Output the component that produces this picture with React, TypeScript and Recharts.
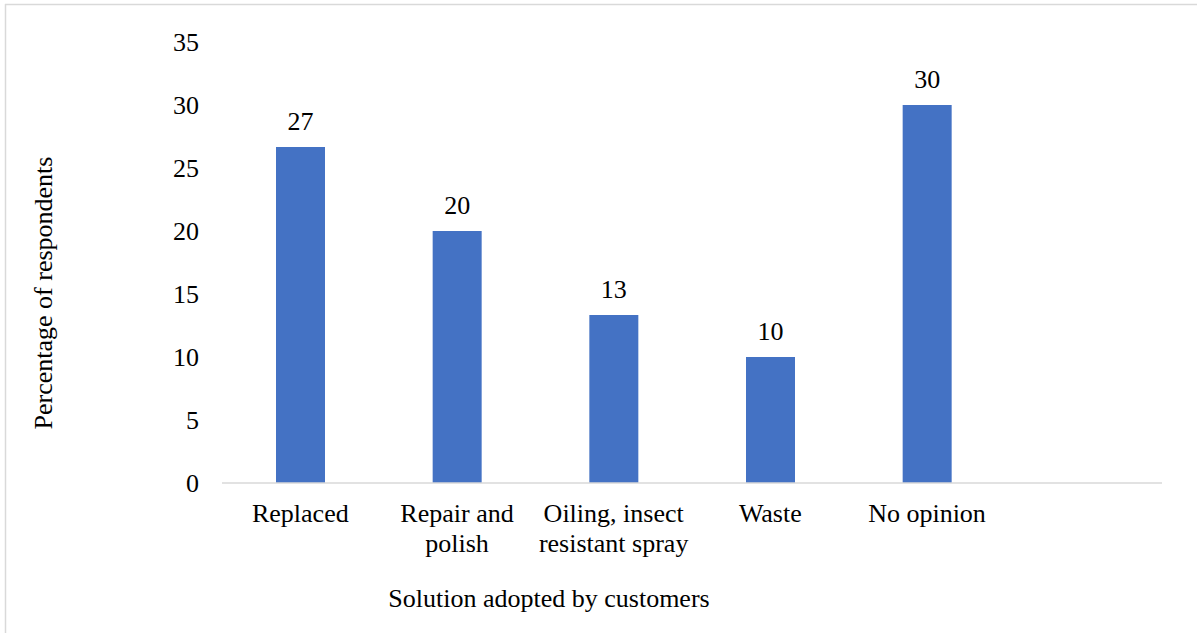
import { BarChart, Bar, XAxis, YAxis, LabelList } from "recharts"

const categories = ["Replaced", "Repair and polish", "Oiling, insect resistant spray", "Waste", "No opinion", ""]
const tickLines = [["Replaced"], ["Repair and", "polish"], ["Oiling, insect", "resistant spray"], ["Waste"], ["No opinion"], [""]]
const percentages = [26.67, 20, 13.33, 10, 30, null]
const yTicks = [0, 5, 10, 15, 20, 25, 30, 35]

const chartData = categories.map((name, i) => ({
  name,
  value: percentages[i],
}))

const FONT = "Liberation Serif, DejaVu Serif, serif"
const textStyle = { fontFamily: FONT, fontSize: 26 }

function CategoryTick(props: any) {
  const { x, y, index } = props
  const lines = tickLines[index] || []
  return (
    <text x={x} y={y} textAnchor="middle" fill="#000" style={textStyle}>
      {lines.map((line, i) => (
        <tspan key={i} x={x} dy={i === 0 ? 18 : 30}>
          {line}
        </tspan>
      ))}
    </text>
  )
}

export default function App() {
  return (
    <div style={{ position: "absolute", left: 0, top: 0, width: 1197, height: 633, background: "#fff", fontFamily: FONT }}>
      <svg width={1197} height={633} style={{ position: "absolute", left: 0, top: 0 }}>
        <line x1={5} y1={4.5} x2={1197} y2={4.5} stroke="#d9d9d9" strokeWidth={1.5} />
        <line x1={5.5} y1={4} x2={5.5} y2={633} stroke="#d9d9d9" strokeWidth={1.5} />
        <text x={549} y={607} textAnchor="middle" fill="#000" style={textStyle}>
          Solution adopted by customers
        </text>
        <text x={0} y={0} transform="translate(52, 293) rotate(-90)" textAnchor="middle" fill="#000" style={textStyle}>
          Percentage of respondents
        </text>
      </svg>
      <div style={{ position: "absolute", left: 0, top: 0 }}>
        <BarChart
          width={1197}
          height={633}
          data={chartData}
          margin={{ top: 42, right: 35, bottom: 0, left: 0 }}
          style={{ fontFamily: FONT }}
        >
          <XAxis
            dataKey="name"
            height={150}
            axisLine={{ stroke: "#d9d9d9", strokeWidth: 1.5 }}
            tickLine={false}
            tickSize={0}
            tickMargin={21}
            interval={0}
            tick={<CategoryTick />}
          />
          <YAxis
            width={222}
            domain={[0, 35]}
            ticks={yTicks}
            axisLine={false}
            tickLine={false}
            tickSize={0}
            tickMargin={23}
            tick={{ fill: "#000", style: textStyle }}
          />
          <Bar dataKey="value" fill="#4472C4" barSize={49} isAnimationActive={false}>
            <LabelList
              dataKey="value"
              position="top"
              offset={17}
              fill="#000"
              style={textStyle}
              formatter={(v: any) => (v == null ? "" : Math.round(v))}
            />
          </Bar>
        </BarChart>
      </div>
    </div>
  )
}
